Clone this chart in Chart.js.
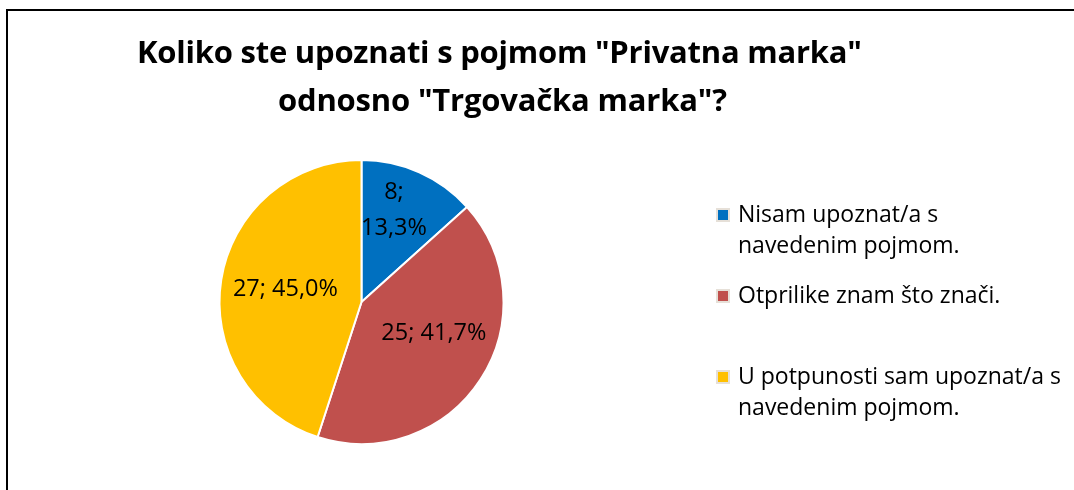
<!DOCTYPE html>
<html>
<head>
<meta charset="utf-8">
<script src="https://cdn.jsdelivr.net/npm/chart.js@4.4.0/dist/chart.umd.min.js"></script>
<style>
  html, body { margin: 0; padding: 0; background: #fff; }
  #wrap { position: relative; width: 1074px; height: 490px; }
</style>
</head>
<body>
<div id="wrap"><canvas id="c" width="1074" height="490"></canvas></div>
<script>
const titleLines = ['Koliko ste upoznati s pojmom "Privatna marka"', 'odnosno "Trgovačka marka"?'];
const categories = [
  ['Nisam upoznat/a s', 'navedenim pojmom.'],
  ['Otprilike znam što znači.'],
  ['U potpunosti sam upoznat/a s', 'navedenim pojmom.']
];
const counts = [8, 25, 27];
const colors = ['#0070C0', '#C0504D', '#FFC000'];

const FONT = '"Open Sans", Lato, sans-serif';

function fitText(ctx, text, x, y, targetW) {
  ctx.letterSpacing = '0px';
  const w = ctx.measureText(text).width;
  const ls = Math.max(-2, Math.min(3, (targetW - w) / Math.max(1, text.length - 1)));
  ctx.letterSpacing = ls.toFixed(2) + 'px';
  ctx.fillText(text, x, y);
  ctx.letterSpacing = '0px';
}

const decorPlugin = {
  id: 'decor',
  beforeDraw(chart) {
    const ctx = chart.ctx;
    ctx.save();
    ctx.fillStyle = '#fff';
    ctx.fillRect(0, 0, chart.width, chart.height);
    ctx.strokeStyle = '#000';
    ctx.lineWidth = 2;
    ctx.beginPath();
    ctx.moveTo(7, chart.height);
    ctx.lineTo(7, 10);
    ctx.lineTo(chart.width, 10);
    ctx.stroke();
    ctx.restore();
  },
  afterDraw(chart) {
    const ctx = chart.ctx;
    ctx.save();
    // title
    ctx.fillStyle = '#000';
    ctx.font = 'bold 31px ' + FONT;
    ctx.textAlign = 'left';
    ctx.textBaseline = 'alphabetic';
    fitText(ctx, titleLines[0], 137, 63, 725);
    fitText(ctx, titleLines[1], 278, 111, 449);

    // legend
    const labels = chart.data.labels;
    const bg = chart.data.datasets[0].backgroundColor;
    ctx.font = '23px ' + FONT;
    ctx.textAlign = 'left';
    ctx.textBaseline = 'middle';
    labels.forEach((lab, i) => {
      const y0 = 215 + i * 81;
      ctx.fillStyle = '#e6e0d8';
      ctx.fillRect(716, y0 - 7, 14, 14);
      ctx.fillStyle = bg[i];
      ctx.fillRect(718, y0 - 5, 10, 10);
      ctx.fillStyle = '#000';
      const lines = Array.isArray(lab) ? lab : [lab];
      lines.forEach((ln, k) => ctx.fillText(ln, 738, y0 + k * 31));
    });

    // data labels
    const meta = chart.getDatasetMeta(0);
    const ds = chart.data.datasets[0].data;
    const total = ds.reduce((a, b) => a + b, 0);
    const place = [{ f: 0.68, da: -5, split: true }, { f: 0.55, da: -9 }, { f: 0.55, da: 0 }];
    ctx.font = '23.5px ' + FONT;
    ctx.textAlign = 'center';
    ctx.fillStyle = '#000';
    meta.data.forEach((arc, i) => {
      const p = arc.getProps(['x', 'y', 'startAngle', 'endAngle', 'outerRadius'], true);
      const mid = (p.startAngle + p.endAngle) / 2 + place[i].da * Math.PI / 180;
      const r = p.outerRadius * place[i].f;
      const x = p.x + Math.cos(mid) * r;
      const y = p.y + Math.sin(mid) * r;
      const pct = (ds[i] / total * 100).toFixed(1).replace('.', ',') + '%';
      if (place[i].split) {
        ctx.fillText(ds[i] + ';', x + 1, y - 18);
        ctx.fillText(pct, x + 1, y + 18);
      } else {
        ctx.fillText(ds[i] + '; ' + pct, x + 1, y);
      }
    });
    ctx.restore();
  }
};

new Chart(document.getElementById('c'), {
  type: 'pie',
  data: {
    labels: categories,
    datasets: [{
      data: counts,
      backgroundColor: colors,
      borderColor: '#ffffff',
      borderWidth: 2
    }]
  },
  options: {
    responsive: false,
    animation: false,
    layout: { padding: { left: 218.5, right: 569.5, top: 159, bottom: 45 } },
    plugins: { legend: { display: false }, tooltip: { enabled: false }, title: { display: false } }
  },
  plugins: [decorPlugin]
});
</script>
</body>
</html>
